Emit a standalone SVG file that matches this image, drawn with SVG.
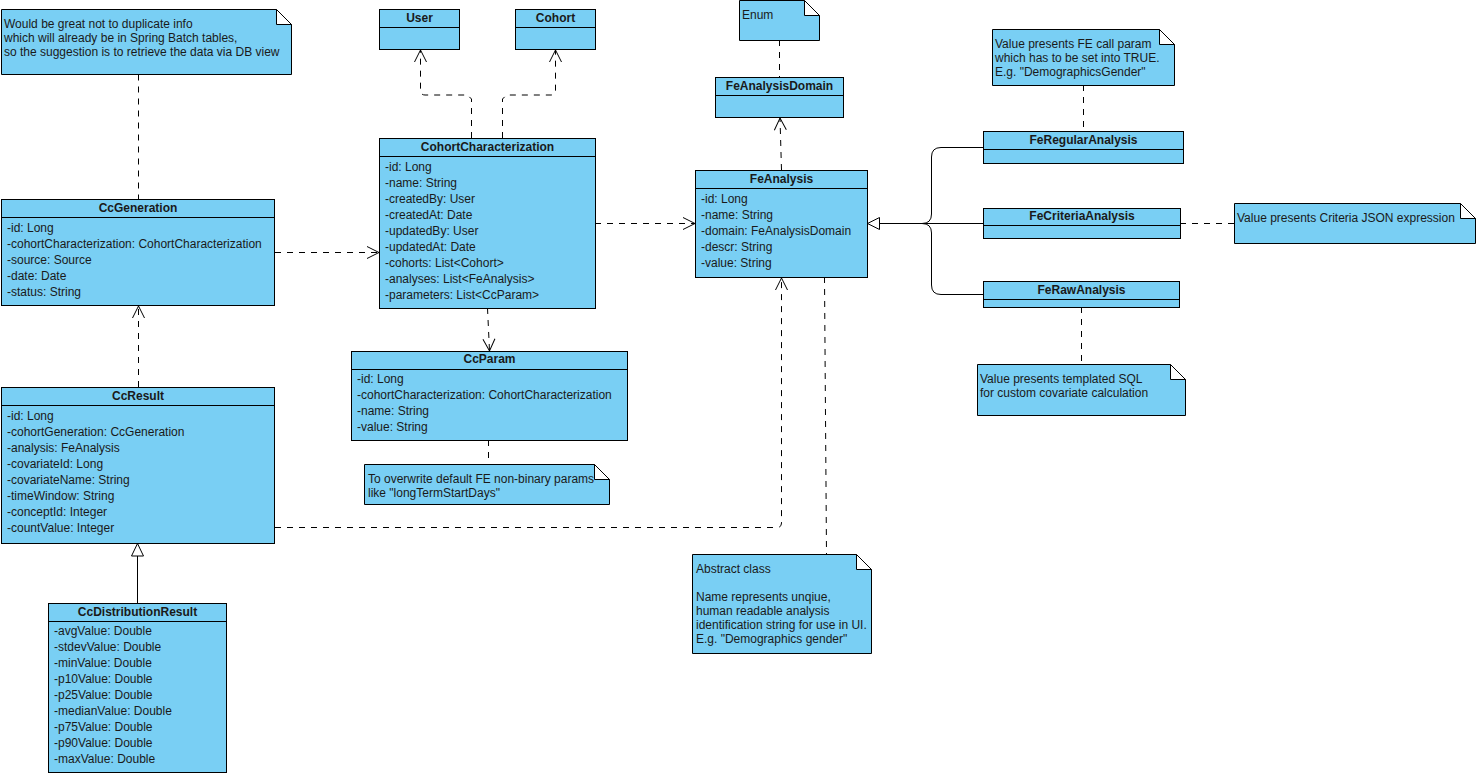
<svg xmlns="http://www.w3.org/2000/svg" width="1476" height="774" viewBox="0 0 1476 774">
<style>
.box{fill:#79CFF4;stroke:#000;stroke-width:1}
.ln{fill:none;stroke:#000;stroke-width:1}
.dash{fill:none;stroke:#000;stroke-width:1;stroke-dasharray:6 6}
.fold{fill:#fff;stroke:#000;stroke-width:1}
text{font-family:"Liberation Sans",Arial,Helvetica,sans-serif;font-size:12px;fill:#1a1a1a}
.ti{font-weight:bold;text-anchor:middle}
</style>
<defs>
<marker id="open" markerUnits="userSpaceOnUse" viewBox="-14 -8 16 16" markerWidth="16" markerHeight="16" refX="0" refY="0" orient="auto" overflow="visible">
<path d="M-12,-6 L0,0 L-12,6" fill="none" stroke="#000" stroke-width="1"/>
</marker>
</defs>
<rect width="1476" height="774" fill="#fff"/>

<g id="connectors">
<path class="dash" d="M138.5,74.5 V199.5"/>
<path class="dash" d="M138.5,387 V306" marker-end="url(#open)"/>
<path class="dash" d="M275,252.5 H379" marker-end="url(#open)"/>
<path class="dash" d="M471.5,138 V99 L467.5,95 H425 Q420.5,95 420.5,90 V50" marker-end="url(#open)"/>
<path class="dash" d="M502.5,138 V99 L506.5,95 H551 Q555.5,95 555.5,90 V50" marker-end="url(#open)"/>
<path class="dash" d="M595,223.5 H695" marker-end="url(#open)"/>
<path class="dash" d="M487.5,308 L489.5,351" marker-end="url(#open)"/>
<path class="dash" d="M488.5,440 V464"/>
<path class="dash" d="M779.5,40 V77"/>
<path class="dash" d="M781.5,170 L780,118" marker-end="url(#open)"/>
<path class="dash" d="M275,527.5 H777 Q781.5,527.5 781.5,523 V278" marker-end="url(#open)"/>
<path class="dash" d="M824.5,277 L826.5,554"/>
<path class="dash" d="M1083.5,85 V131"/>
<path class="dash" d="M1180,223.5 H1234"/>
<path class="dash" d="M1081.5,307 V364"/>
<path class="ln" d="M983,223.5 H879.5"/>
<path class="ln" d="M983,147.5 H941 Q931.5,147.5 931.5,157 V214 Q931.5,223.5 922,223.5"/>
<path class="ln" d="M983,294.5 H941 Q931.5,294.5 931.5,285 V233 Q931.5,223.5 922,223.5"/>
<polygon class="fold" points="867.5,223.5 879.5,217.5 879.5,229.5"/>
<path class="ln" d="M137.5,603 V556"/>
<polygon class="fold" points="137.5,543.5 131.5,556 143.5,556"/>
</g>

<g id="note-spring">
<path class="box" d="M1.5,9.5 H276.5 L291.5,24.5 V74.5 H1.5 Z"/>
<path class="fold" d="M276.5,9.5 V24.5 H291.5 Z"/>
<text x="4" y="28">Would be great not to duplicate info</text>
<text x="4" y="42">which will already be in Spring Batch tables,</text>
<text x="4" y="56">so the suggestion is to retrieve the data via DB view</text>
</g>

<g id="CcGeneration">
<rect class="box" x="1.5" y="199.5" width="273" height="106"/>
<path class="ln" d="M1.5,217.5 H274.5"/>
<text class="ti" x="138" y="212">CcGeneration</text>
<text x="7" y="232">-id: Long</text>
<text x="7" y="248">-cohortCharacterization: CohortCharacterization</text>
<text x="7" y="264">-source: Source</text>
<text x="7" y="280">-date: Date</text>
<text x="7" y="296">-status: String</text>
</g>

<g id="CcResult">
<rect class="box" x="1.5" y="387.5" width="273" height="156"/>
<path class="ln" d="M1.5,405.5 H274.5"/>
<text class="ti" x="138" y="400">CcResult</text>
<text x="7" y="420">-id: Long</text>
<text x="7" y="436">-cohortGeneration: CcGeneration</text>
<text x="7" y="452">-analysis: FeAnalysis</text>
<text x="7" y="468">-covariateId: Long</text>
<text x="7" y="484">-covariateName: String</text>
<text x="7" y="500">-timeWindow: String</text>
<text x="7" y="516">-conceptId: Integer</text>
<text x="7" y="532">-countValue: Integer</text>
</g>

<g id="CcDistributionResult">
<rect class="box" x="48.5" y="603.5" width="178" height="169"/>
<path class="ln" d="M48.5,621.5 H226.5"/>
<text class="ti" x="137.5" y="616">CcDistributionResult</text>
<text x="54" y="635">-avgValue: Double</text>
<text x="54" y="651">-stdevValue: Double</text>
<text x="54" y="667">-minValue: Double</text>
<text x="54" y="683">-p10Value: Double</text>
<text x="54" y="699">-p25Value: Double</text>
<text x="54" y="715">-medianValue: Double</text>
<text x="54" y="731">-p75Value: Double</text>
<text x="54" y="747">-p90Value: Double</text>
<text x="54" y="763">-maxValue: Double</text>
</g>

<g id="User">
<rect class="box" x="379.5" y="9.5" width="80" height="40"/>
<path class="ln" d="M379.5,27.5 H459.5"/>
<text class="ti" x="419.5" y="22">User</text>
</g>

<g id="Cohort">
<rect class="box" x="515.5" y="9.5" width="80" height="40"/>
<path class="ln" d="M515.5,27.5 H595.5"/>
<text class="ti" x="555.5" y="22">Cohort</text>
</g>

<g id="CohortCharacterization">
<rect class="box" x="379.5" y="138.5" width="216" height="170"/>
<path class="ln" d="M379.5,156.5 H595.5"/>
<text class="ti" x="487.5" y="151">CohortCharacterization</text>
<text x="385" y="171">-id: Long</text>
<text x="385" y="187">-name: String</text>
<text x="385" y="203">-createdBy: User</text>
<text x="385" y="219">-createdAt: Date</text>
<text x="385" y="235">-updatedBy: User</text>
<text x="385" y="251">-updatedAt: Date</text>
<text x="385" y="267">-cohorts: List&lt;Cohort&gt;</text>
<text x="385" y="283">-analyses: List&lt;FeAnalysis&gt;</text>
<text x="385" y="299">-parameters: List&lt;CcParam&gt;</text>
</g>

<g id="CcParam">
<rect class="box" x="351.5" y="351.5" width="276" height="89"/>
<path class="ln" d="M351.5,369.5 H627.5"/>
<text class="ti" x="489.5" y="363">CcParam</text>
<text x="357" y="383">-id: Long</text>
<text x="357" y="399">-cohortCharacterization: CohortCharacterization</text>
<text x="357" y="415">-name: String</text>
<text x="357" y="431">-value: String</text>
</g>

<g id="note-param">
<path class="box" d="M364.5,464.5 H594.5 L609.5,479.5 V504.5 H364.5 Z"/>
<path class="fold" d="M594.5,464.5 V479.5 H609.5 Z"/>
<text x="368" y="483">To overwrite default FE non-binary params</text>
<text x="368" y="497">like "longTermStartDays"</text>
</g>

<g id="note-enum">
<path class="box" d="M739.5,0.5 H804.5 L819.5,15.5 V40.5 H739.5 Z"/>
<path class="fold" d="M804.5,0.5 V15.5 H819.5 Z"/>
<text x="742" y="19">Enum</text>
</g>

<g id="FeAnalysisDomain">
<rect class="box" x="715.5" y="77.5" width="128" height="40"/>
<path class="ln" d="M715.5,95.5 H843.5"/>
<text class="ti" x="779.5" y="90">FeAnalysisDomain</text>
</g>

<g id="FeAnalysis">
<rect class="box" x="695.5" y="170.5" width="172" height="107"/>
<path class="ln" d="M695.5,188.5 H867.5"/>
<text class="ti" x="781.5" y="183">FeAnalysis</text>
<text x="701" y="203">-id: Long</text>
<text x="701" y="219">-name: String</text>
<text x="701" y="235">-domain: FeAnalysisDomain</text>
<text x="701" y="251">-descr: String</text>
<text x="701" y="267">-value: String</text>
</g>

<g id="note-abstract">
<path class="box" d="M692.5,554.5 H856.5 L871.5,569.5 V653.5 H692.5 Z"/>
<path class="fold" d="M856.5,554.5 V569.5 H871.5 Z"/>
<text x="696" y="573">Abstract class</text>
<text x="696" y="601">Name represents unqiue,</text>
<text x="696" y="615">human readable analysis</text>
<text x="696" y="629">identification string for use in UI.</text>
<text x="696" y="643">E.g. "Demographics gender"</text>
</g>

<g id="note-regular">
<path class="box" d="M992.5,29.5 H1159.5 L1174.5,44.5 V85.5 H992.5 Z"/>
<path class="fold" d="M1159.5,29.5 V44.5 H1174.5 Z"/>
<text x="995" y="48">Value presents FE call param</text>
<text x="995" y="62">which has to be set into TRUE.</text>
<text x="995" y="76">E.g. "DemographicsGender"</text>
</g>

<g id="FeRegularAnalysis">
<rect class="box" x="983.5" y="131.5" width="200" height="32"/>
<path class="ln" d="M983.5,149.5 H1183.5"/>
<text class="ti" x="1083.5" y="144">FeRegularAnalysis</text>
</g>

<g id="FeCriteriaAnalysis">
<rect class="box" x="983.5" y="208.5" width="197" height="30"/>
<path class="ln" d="M983.5,225.5 H1180.5"/>
<text class="ti" x="1082" y="220">FeCriteriaAnalysis</text>
</g>

<g id="note-criteria">
<path class="box" d="M1234.5,203.5 H1460.5 L1475.5,218.5 V243.5 H1234.5 Z"/>
<path class="fold" d="M1460.5,203.5 V218.5 H1475.5 Z"/>
<text x="1237" y="222">Value presents Criteria JSON expression</text>
</g>

<g id="FeRawAnalysis">
<rect class="box" x="983.5" y="281.5" width="196" height="26"/>
<path class="ln" d="M983.5,299.5 H1179.5"/>
<text class="ti" x="1081.5" y="294">FeRawAnalysis</text>
</g>

<g id="note-raw">
<path class="box" d="M977.5,364.5 H1170.5 L1185.5,379.5 V415.5 H977.5 Z"/>
<path class="fold" d="M1170.5,364.5 V379.5 H1185.5 Z"/>
<text x="980" y="383">Value presents templated SQL</text>
<text x="980" y="397">for custom covariate calculation</text>
</g>
</svg>
